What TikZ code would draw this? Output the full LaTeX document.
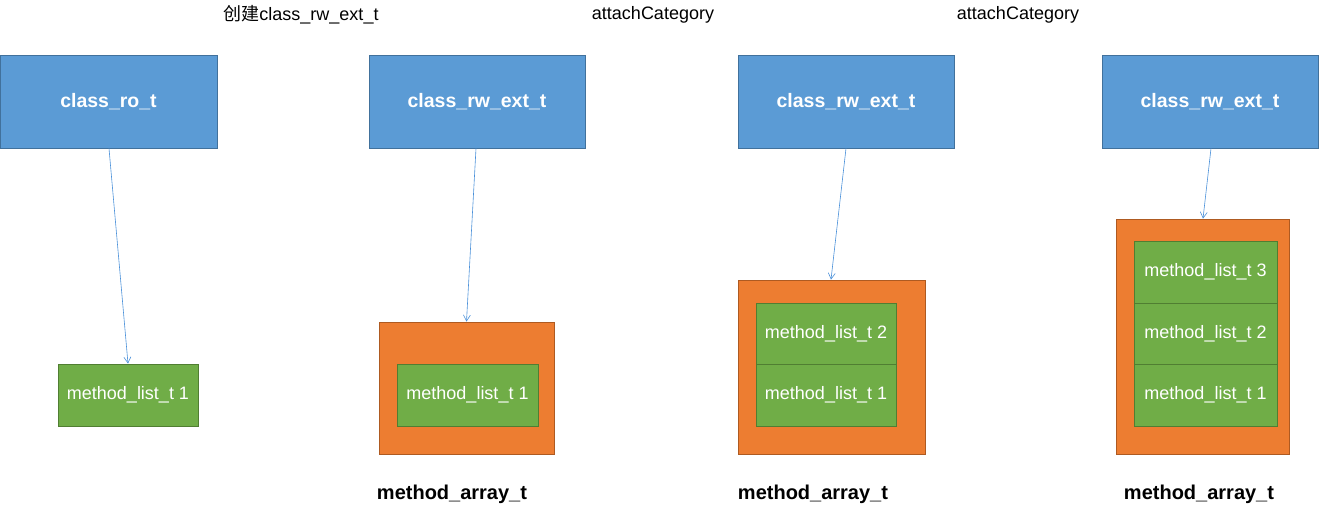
\documentclass[tikz,border=0pt]{standalone}
\usepackage{fontspec}
\setmainfont{Liberation Sans}
\newfontfamily\cjk{Noto Sans CJK SC}
\usetikzlibrary{arrows.meta}
\definecolor{bluefill}{HTML}{5B9BD5}
\definecolor{blueline}{HTML}{41719C}
\definecolor{greenfill}{HTML}{70AD47}
\definecolor{greenline}{HTML}{507E32}
\definecolor{orangefill}{HTML}{ED7D31}
\definecolor{orangeline}{HTML}{AE5A21}
\definecolor{arrowblue}{HTML}{4A90D9}
\begin{document}
\begin{tikzpicture}[x=1pt,y=-1pt,
  classbox/.style={draw=blueline,fill=bluefill,line width=0.8pt,text=white,font=\fontsize{19.5}{22}\selectfont\bfseries},
  listbox/.style={draw=greenline,fill=greenfill,line width=0.8pt,text=white,font=\fontsize{18}{20}\selectfont},
  arraybox/.style={draw=orangeline,fill=orangefill,line width=0.8pt},
  steplabel/.style={font=\fontsize{18}{20}\selectfont,text=black},
  arraylabel/.style={font=\fontsize{20}{22}\selectfont\bfseries,text=black},
  link/.style={draw=arrowblue,line width=0.6pt,-{Straight Barb[length=6pt,width=7pt]}}
]
\useasboundingbox (0,0) rectangle (1320,508);
% column 1
\node[classbox,minimum width=217pt,minimum height=93pt,inner sep=0pt] (ro) at (108.5,101.5) {class\_ro\_t};
\node[listbox,minimum width=140pt,minimum height=62pt,inner sep=0pt] (l1a) at (128,395) {method\_list\_t 1};
% column 2
\node[steplabel] (s1) at (301,15) {{\cjk 创建}class\_rw\_ext\_t};
\node[classbox,minimum width=216pt,minimum height=93pt,inner sep=0pt] (rw2) at (477,101.5) {class\_rw\_ext\_t};
\node[arraybox,minimum width=175pt,minimum height=132pt,inner sep=0pt] (a2) at (466.5,388) {};
\node[listbox,minimum width=141pt,minimum height=62pt,inner sep=0pt] (l2a) at (467.5,395) {method\_list\_t 1};
\node[arraylabel] (m2) at (452,494) {method\_array\_t};
% column 3
\node[steplabel] (s2) at (653,15) {attachCategory};
\node[classbox,minimum width=216pt,minimum height=93pt,inner sep=0pt] (rw3) at (846,101.5) {class\_rw\_ext\_t};
\node[arraybox,minimum width=187pt,minimum height=174pt,inner sep=0pt] (a3) at (831.5,367) {};
\node[listbox,minimum width=140pt,minimum height=61pt,inner sep=0pt] (l3b) at (826,333.5) {method\_list\_t 2};
\node[listbox,minimum width=140pt,minimum height=62pt,inner sep=0pt] (l3a) at (826,395) {method\_list\_t 1};
\node[arraylabel] (m3) at (813,494) {method\_array\_t};
% column 4
\node[steplabel] (s3) at (1018,15) {attachCategory};
\node[classbox,minimum width=216pt,minimum height=93pt,inner sep=0pt] (rw4) at (1210,101.5) {class\_rw\_ext\_t};
\node[arraybox,minimum width=173pt,minimum height=235pt,inner sep=0pt] (a4) at (1202.5,336.5) {};
\node[listbox,minimum width=143pt,minimum height=62pt,inner sep=0pt] (l4c) at (1205.5,272) {method\_list\_t 3};
\node[listbox,minimum width=143pt,minimum height=61pt,inner sep=0pt] (l4b) at (1205.5,333.5) {method\_list\_t 2};
\node[listbox,minimum width=143pt,minimum height=62pt,inner sep=0pt] (l4a) at (1205.5,395) {method\_list\_t 1};
\node[arraylabel] (m4) at (1199,494) {method\_array\_t};
% connectors
\draw[link] ([xshift=0.5pt]ro.south) -- (l1a.north);
\draw[link] ([xshift=-1pt]rw2.south) -- (a2.north);
\draw[link] (rw3.south) -- ([xshift=-0.5pt]a3.north);
\draw[link] ([xshift=1pt]rw4.south) -- ([xshift=0.5pt]a4.north);
\end{tikzpicture}
\end{document}
